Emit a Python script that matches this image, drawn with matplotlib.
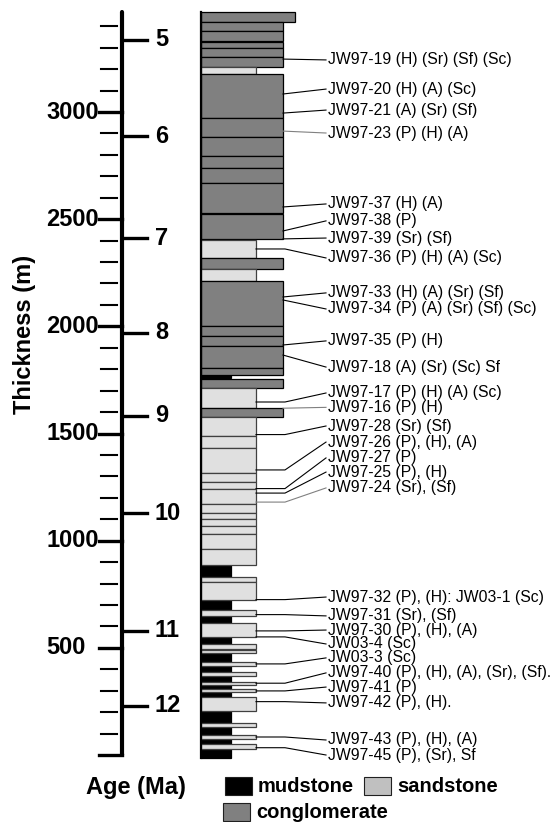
import matplotlib
matplotlib.use("Agg")
import matplotlib.pyplot as plt
from matplotlib.patches import Rectangle

plt.rcParams['font.family'] = ['Liberation Sans', 'DejaVu Sans']

# beds of the section, bottom/top in metres, lithology M=mudstone S=sandstone C=conglomerate
bed_base = [3419, 3378, 3331, 3297, 3258, 3209, 3177, 2971, 2885, 2796, 2737, 2667, 2527, 2406,
            2317, 2268, 2212, 2002, 1955, 1908, 1804, 1773, 1758, 1711, 1620, 1576, 1490, 1431,
            1317, 1272, 1240, 1170, 1131, 1100, 1068, 1030, 960, 886, 832, 809, 723, 677, 650,
            614, 549, 518, 495, 490, 474, 435, 415, 389, 369, 342, 327, 307, 293, 269, 205, 151,
            132, 92, 73, 50, 28, -15]
bed_top = [3465, 3419, 3377, 3328, 3297, 3255, 3209, 3177, 2971, 2885, 2796, 2737, 2667, 2523,
           2403, 2317, 2268, 2212, 2002, 1955, 1908, 1804, 1773, 1755, 1711, 1620, 1576, 1490,
           1431, 1317, 1272, 1240, 1170, 1131, 1100, 1068, 1030, 960, 886, 832, 809, 723, 677,
           650, 614, 549, 518, 495, 490, 474, 435, 415, 389, 369, 342, 327, 307, 293, 269, 205,
           151, 132, 92, 73, 50, 28]
bed_lith = ['C', 'C', 'C', 'C', 'C', 'C', 'S', 'C', 'C', 'C', 'C', 'C', 'C', 'C',
            'S', 'C', 'S', 'C', 'C', 'C', 'C', 'C', 'M', 'C', 'S', 'C', 'S', 'S',
            'S', 'S', 'S', 'S', 'S', 'S', 'S', 'S', 'S', 'S', 'M', 'S', 'S', 'M', 'S',
            'M', 'S', 'M', 'S', 'M', 'S', 'M', 'S', 'M', 'S', 'M', 'S', 'M', 'S', 'M', 'S', 'M',
            'S', 'M', 'S', 'M', 'S', 'M']

# age model: age (Ma) against stratigraphic height (m)
age_ma = [5, 6, 7, 8, 9, 10, 11, 12]
age_at_m = [3336, 2888, 2412, 1969, 1582, 1129, 579, 229]

thick_labels = [500, 1000, 1500, 2000, 2500, 3000]

# samples: label, label height (m), sample height in the column (m)
sample_text = ['JW97-19 (H) (Sr) (Sf) (Sc)', 'JW97-20 (H) (A) (Sc)', 'JW97-21 (A) (Sr) (Sf)',
               'JW97-23 (P) (H) (A)', 'JW97-37 (H) (A)', 'JW97-38 (P)', 'JW97-39 (Sr) (Sf)',
               'JW97-36 (P) (H) (A) (Sc)', 'JW97-33 (H) (A) (Sr) (Sf)',
               'JW97-34 (P) (A) (Sr) (Sf) (Sc)', 'JW97-35 (P) (H)', 'JW97-18 (A) (Sr) (Sc) Sf',
               'JW97-17 (P) (H) (A) (Sc)', 'JW97-16 (P) (H)', 'JW97-28 (Sr) (Sf)',
               'JW97-26 (P), (H), (A)', 'JW97-27 (P)', 'JW97-25 (P), (H)', 'JW97-24 (Sr), (Sf)',
               'JW97-32 (P), (H): JW03-1 (Sc)', 'JW97-31 (Sr), (Sf)', 'JW97-30 (P), (H), (A)',
               'JW03-4 (Sc)', 'JW03-3 (Sc)', 'JW97-40 (P), (H), (A), (Sr), (Sf).', 'JW97-41 (P)',
               'JW97-42 (P), (H).', 'JW97-43 (P), (H), (A)', 'JW97-45 (P), (Sr), Sf']
sample_label_m = [3243, 3107, 3009, 2902, 2571, 2492, 2412, 2319, 2156, 2081, 1932, 1810,
                  1689, 1622, 1535, 1460, 1386, 1320, 1246, 737, 649, 583, 518, 453, 383, 317,
                  243, 70, 0]
sample_m = [3247, 3084, 2995, 2911, 2557, 2445, 2408, 2361, 2137, 2123, 1913, 1866,
            1647, 1618, 1495, 1330, 1243, 1222, 1180, 725, 655, 579, 551, 425, 335, 299,
            249, 84, 34]
gray_leaders = ['JW97-23', 'JW97-16', 'JW97-24']

fill = {'M': 'black', 'S': '#e0e0e0', 'C': '#808080'}
edge = {'M': 'black', 'S': '#404040', 'C': 'black'}
right = {'M': 231, 'S': 256, 'C': 283}
zord = {'M': 2, 'S': 3, 'C': 3}
col_left = 201

fig = plt.figure(figsize=(5.58, 8.22), dpi=100)
ax = fig.add_axes([0, 0, 1, 1])
ax.set_xlim(0, 558)
ax.set_ylim(-312.6, 3522.6)
ax.axis('off')

# column
widths = []
for i, (b, t, l) in enumerate(zip(bed_base, bed_top, bed_lith)):
    r = right[l] if i > 0 else 295
    widths.append(r)
    ax.bar(col_left, t - b, width=r - col_left, bottom=b, align='edge',
           color=fill[l], edgecolor=edge[l], linewidth=0.9, zorder=zord[l])
ax.plot([col_left, col_left], [min(bed_base), max(bed_top)], color='black', lw=1.6, zorder=5)

# thickness axis
ax.plot([122, 122], [0, max(bed_top)], color='black', lw=3, solid_capstyle='round', zorder=5)
for h in range(0, 3500, 100):
    if h % 500 == 0:
        ax.plot([99, 122], [h, h], color='black', lw=2.4)
    else:
        ax.plot([101, 117], [h, h], color='black', lw=1.5)
for h in thick_labels:
    ax.text(46, h, str(h), ha='left', va='center', fontsize=17, fontweight='bold')

for a, h in zip(age_ma, age_at_m):
    ax.plot([122, 147], [h, h], color='black', lw=2.4)
    ax.text(155, h, str(a), ha='left', va='center', fontsize=17, fontweight='bold')

# sample labels and leaders
def edge_at(h):
    for b, t, r in zip(bed_base, bed_top, widths):
        if b <= h <= t:
            return r
    return col_left

for txt, ly, sy in zip(sample_text, sample_label_m, sample_m):
    x0 = edge_at(sy)
    if x0 < 270:
        xs, ys = [x0, 285, 326], [sy, sy, ly]
    else:
        xs, ys = [x0, 326], [sy, ly]
    c = '#808080' if txt.split(' ')[0] in gray_leaders else 'black'
    ax.plot(xs, ys, color=c, lw=0.8, zorder=4)
    ax.text(328, ly, txt, ha='left', va='center', fontsize=11.3)

fig.text(25 / 558, 1 - 334 / 822, 'Thickness (m)', rotation=90, ha='center', va='center',
         fontsize=17, fontweight='bold')
fig.text(136 / 558, 1 - 787 / 822, 'Age (Ma)', ha='center', va='center',
         fontsize=17, fontweight='bold')

# legend
leg = [('mudstone', 'black', 225, 786), ('sandstone', '#c0c0c0', 364, 786),
       ('conglomerate', '#808080', 223, 812)]
for name, col, x, y in leg:
    fig.patches.append(Rectangle((x / 558, 1 - (y + 9) / 822), 27 / 558, 18 / 822,
                                 transform=fig.transFigure, facecolor=col,
                                 edgecolor='#202020', lw=0.8))
    fig.text((x + 33) / 558, 1 - y / 822, name, ha='left', va='center',
             fontsize=14.5, fontweight='bold')

fig.savefig('out.png', dpi=100)
